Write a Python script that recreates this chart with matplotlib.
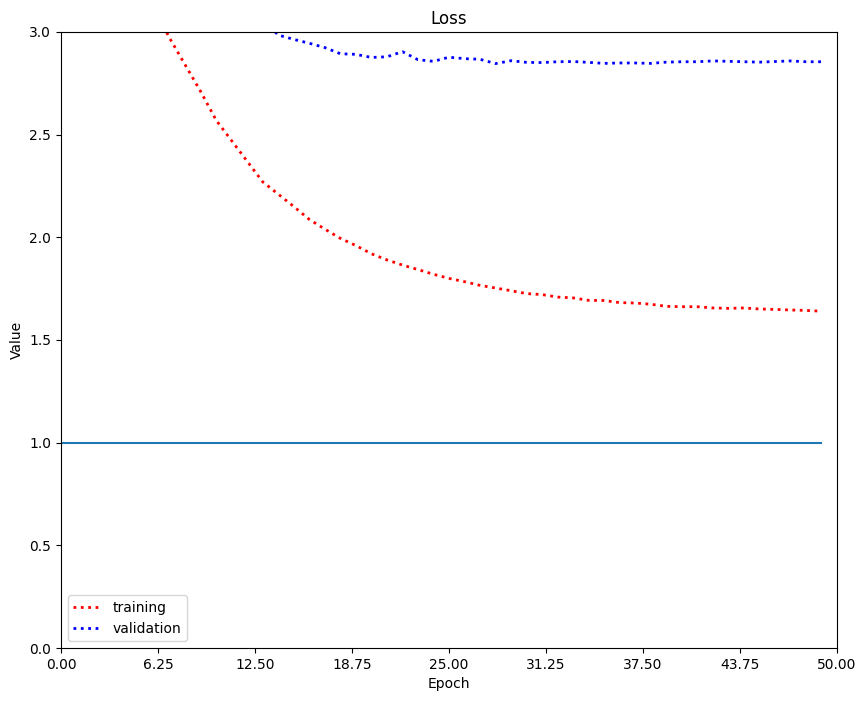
import numpy as np
import matplotlib
matplotlib.use('Agg')
import matplotlib.pyplot as plt

epochs = np.arange(50)

# values above 3.0 are off the chart in the reference, guessed
training = [6.2, 5.3, 4.6, 4.1, 3.7, 3.4, 3.12, 2.97, 2.84, 2.71,
            2.57, 2.47, 2.37, 2.27, 2.21, 2.15, 2.087, 2.04, 1.995, 1.96,
            1.92, 1.89, 1.865, 1.843, 1.82, 1.80, 1.784, 1.766, 1.753, 1.74,
            1.726, 1.721, 1.709, 1.705, 1.693, 1.692, 1.682, 1.68, 1.674, 1.664,
            1.662, 1.662, 1.656, 1.654, 1.656, 1.651, 1.649, 1.646, 1.644, 1.64]

validation = [6.0, 5.2, 4.6, 4.1, 3.8, 3.6, 3.45, 3.33, 3.24, 3.17,
              3.12, 3.09, 3.07, 3.06, 2.985, 2.964, 2.945, 2.924, 2.894, 2.891,
              2.876, 2.879, 2.904, 2.865, 2.857, 2.877, 2.870, 2.867, 2.846, 2.860,
              2.852, 2.851, 2.855, 2.856, 2.852, 2.847, 2.849, 2.849, 2.847, 2.853,
              2.855, 2.855, 2.859, 2.857, 2.855, 2.853, 2.856, 2.859, 2.855, 2.855]

baseline = [1.0] * 50

fig = plt.figure(figsize=(8.65, 7.01), dpi=100)
ax = fig.add_axes([0.0705, 0.0756, 0.8971, 0.8788])
ax.plot(epochs, training, 'r:', linewidth=2, label='training')
ax.plot(epochs, validation, 'b:', linewidth=2, label='validation')
ax.plot(epochs, baseline)
ax.set_xlim(0, 50)
ax.set_ylim(0, 3)
ax.set_xticks(np.linspace(0, 50, 9))
ax.set_xticklabels(['%.2f' % v for v in np.linspace(0, 50, 9)])
ax.set_title('Loss')
ax.set_xlabel('Epoch')
ax.set_ylabel('Value')
ax.legend(loc='lower left')
fig.savefig('out.png')
